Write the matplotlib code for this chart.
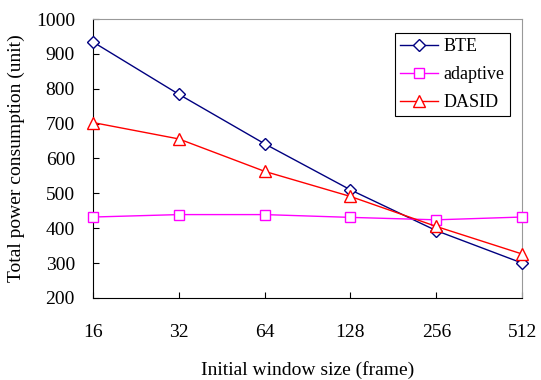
import matplotlib
matplotlib.use("Agg")
import matplotlib.pyplot as plt

window = ["16", "32", "64", "128", "256", "512"]
bte = [934, 784, 642, 510, 393, 300]
adaptive = [432, 439, 439, 431, 424, 432]
dasid = [703, 656, 563, 491, 405, 326]

plt.rcParams["font.family"] = ["Liberation Serif", "DejaVu Serif"]

fig = plt.figure(figsize=(5.41, 3.80), dpi=100)
ax = fig.add_axes([0.172, 0.216, 0.793, 0.734])

x = range(len(window))
ax.plot(x, bte, color="#000080", marker="D", markersize=6, markerfacecolor="white",
        linewidth=1, label="BTE", clip_on=False, zorder=3)
ax.plot(x, adaptive, color="#ff00ff", marker="s", markersize=7, markerfacecolor="white",
        linewidth=1, label="adaptive", clip_on=False, zorder=3)
ax.plot(x, dasid, color="#ff0000", marker="^", markersize=8, markerfacecolor="white",
        linewidth=1, label="DASID", clip_on=False, zorder=3)

ax.set_xlim(0, len(window) - 1)
ax.set_ylim(200, 1000)
ax.set_xticks(list(x))
ax.set_xticklabels(window)
ax.set_yticks(range(200, 1001, 100))
ax.tick_params(axis="both", direction="in", labelsize=14, length=4, width=0.8)
ax.tick_params(axis="x", pad=19)
ax.tick_params(axis="y", pad=13)

ax.set_xlabel("Initial window size (frame)", fontsize=14, labelpad=14)
ax.set_ylabel("Total power consumption (unit)", fontsize=14, labelpad=8)

ax.spines["left"].set_color("black")
ax.spines["bottom"].set_color("black")
ax.spines["top"].set_color("#999999")
ax.spines["right"].set_color("#999999")

leg = ax.legend(loc="upper right", bbox_to_anchor=(0.972, 0.95), fontsize=13,
                fancybox=False, edgecolor="black", framealpha=1,
                handlelength=2.1, handletextpad=0.3, borderpad=0.3,
                labelspacing=0.6, borderaxespad=0)
leg.get_frame().set_linewidth(0.8)

fig.savefig("out.png", dpi=100)
